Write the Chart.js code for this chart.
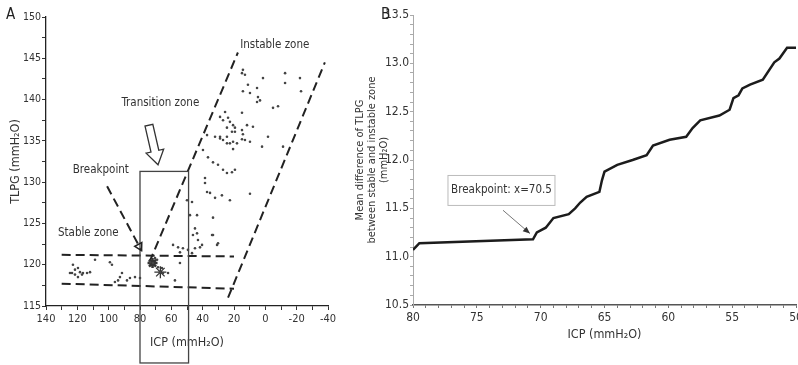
<!DOCTYPE html>
<html>
<head>
<meta charset="utf-8">
<script src="https://cdn.jsdelivr.net/npm/chart.js@4.4.1/dist/chart.umd.min.js"></script>
<style>
  html, body { margin: 0; padding: 0; background: #fff; overflow: hidden; width: 798px; height: 365px; }
  canvas { position: absolute; top: 0; }
  #chartA { left: 0; }
  #chartB { left: 340px; }
  .tag { position: absolute; font: 15px 'Liberation Sans Narrow', 'DejaVu Sans Condensed', sans-serif; color: #222; }
</style>
</head>
<body>
<canvas id="chartB" width="470" height="365"></canvas>
<canvas id="chartA" width="345" height="365"></canvas>
<div class="tag" style="left:6px;top:5px">A</div>
<div class="tag" style="left:381px;top:5px">B</div>
<script>
const FONT = "'Liberation Sans Narrow', 'DejaVu Sans Condensed', sans-serif";

// ---- Panel A: TLPG vs ICP scatter ----
const icpA = [
  14.3, 14.9, 13.0, 1.5, -12.6, -12.6, -22.1, -22.8, 11.1, 14.3, 9.8, 5.3, 4.7, 3.4, 5.3, -4.9, -8.1,
  25.7, 28.9, 23.8, 22.6, 20.6, 19.4, 24.5, 21.3, 27.0, 14.9, 11.7, 7.9, 14.9, -1.7, 28.9, 24.5,
  37.2, 32.1, 28.9, 27.0, 24.5, 22.6, 20.6, 18.1, 14.9, 13.0, 9.8, 14.3, 19.4, 20.6, 2.1, -11.3,
  39.8, 36.6, 33.4, 30.2, 27.0, 24.5, 21.3, 19.4, 38.5, 38.5, 37.2, 35.3, 32.1, 27.7, 22.6, 9.8,
  50.0, 46.8, 48.1, 43.6, 33.4, 44.9, 46.2, 33.4, 43.6, 43.0, 40.4, 34.0, 30.8, 30.2,
  58.9, 55.7, 52.6, 54.5, 49.4, 44.9, 41.7, 46.8,
  73.6, 71.7, 69.1, 68.5, 67.2, 65.3, 66.0, 62.1, 70.4, 54.5, 57.7, 80.0,
  124.7, 121.5, 122.8, 119.6, 118.3, 117.0, 116.4, 113.8, 119.6, 123.4, 121.5, 111.9,
  108.7, 99.2, 97.9, 94.0, 92.8, 91.5, 88.3, 96.0, 86.4, 83.2
];
const tlpgA = [
  143.6, 143.2, 143.0, 142.6, 143.2, 142.0, 142.6, 141.0, 141.8, 141.0, 140.8, 141.4, 140.3, 139.9, 139.7, 139.0, 139.2,
  138.5, 137.9, 137.8, 137.3, 136.9, 136.6, 136.6, 136.1, 137.5, 138.4, 136.9, 136.7, 136.3, 135.5, 135.5, 135.5,
  135.7, 135.5, 135.3, 135.1, 134.7, 134.7, 134.9, 134.7, 135.2, 135.1, 134.9, 135.8, 136.1, 134.0, 134.3, 134.3,
  133.9, 133.0, 132.4, 132.1, 131.5, 131.1, 131.2, 131.5, 130.5, 129.9, 128.8, 128.7, 128.1, 128.4, 127.8, 128.6,
  127.8, 127.6, 126.0, 126.0, 125.7, 124.4, 123.6, 123.6, 123.8, 123.0, 122.4, 123.6, 122.4, 122.6,
  122.4, 122.1, 122.0, 121.5, 121.8, 122.0, 122.1, 121.4,
  120.3, 120.2, 120.6, 119.7, 119.1, 119.0, 119.6, 119.0, 120.8, 120.2, 118.1, 118.4,
  119.0, 119.4, 120.0, 119.6, 119.1, 118.8, 119.0, 119.0, 118.5, 119.0, 118.8, 119.1,
  120.6, 120.3, 120.0, 118.1, 118.5, 119.0, 118.1, 117.9, 118.4, 118.5
];
const starICP = [72, 67];
const starTLPG = [120.2, 119.1];

// dashed zone boundaries, [ICP, TLPG] end points
const stableUpper = [[130, 121.2], [20, 121.0]];
const stableLower = [[130, 117.7], [20, 117.1]];
const breakpointPointer = [[101, 129.5], [79, 121.7]];
const instableLeft = [[74, 120.3], [17.5, 145.7]];
const instableRight = [[23.8, 116.0], [-38, 144.5]];

// transition box and arrow (data units)
const transitionBoxICP = [80, 49];
const transitionBoxTLPG = [108.1, 131.3];
const transitionArrow = [[74.3, 136.9], [68.5, 132.1]];

const labelsA = ['Instable zone', 'Transition zone', 'Breakpoint', 'Stable zone'];
const labelICP = [-6, 67, 105, 113];
const labelTLPG = [146.6, 139.6, 131.5, 123.8];

// ---- Panel B: mean difference curve ----
const icpB = [80.0, 79.5, 70.6, 70.3, 69.6, 69.0, 67.8, 67.3, 66.9, 66.4, 65.4, 65.2, 65.0, 64.0, 62.8, 61.7,
  61.2, 59.9, 58.6, 58.1, 57.5, 56.0, 55.2, 54.9, 54.5, 54.2, 53.6, 52.6, 51.7, 51.3, 50.7, 50.0];
const meanDiffB = [11.07, 11.14, 11.18, 11.25, 11.30, 11.40, 11.44, 11.50, 11.56, 11.62, 11.67, 11.79, 11.88, 11.95, 12.00, 12.05,
  12.15, 12.21, 12.24, 12.33, 12.41, 12.46, 12.52, 12.64, 12.67, 12.74, 12.78, 12.83, 13.01, 13.05, 13.16, 13.16];

const breakpointText = 'Breakpoint: x=70.5';
const breakpointBoxICP = [77.26, 68.88];
const breakpointBoxVal = [11.53, 11.84];
const breakpointArrow = [[72.95, 11.48], [70.84, 11.24]];

const toPts = arr => arr.map(p => ({ x: p[0], y: p[1] }));

function dashed(points) {
  return {
    type: 'scatter', data: toPts(points), showLine: true,
    borderColor: '#222', borderWidth: 2, borderDash: [9, 5], pointRadius: 0
  };
}

function arrowHead(ctx, x1, y1, x2, y2, len, half, fill) {
  const a = Math.atan2(y2 - y1, x2 - x1);
  ctx.beginPath();
  ctx.moveTo(x2, y2);
  ctx.lineTo(x2 - len * Math.cos(a) + half * Math.sin(a), y2 - len * Math.sin(a) - half * Math.cos(a));
  ctx.lineTo(x2 - len * Math.cos(a) - half * Math.sin(a), y2 - len * Math.sin(a) + half * Math.cos(a));
  ctx.closePath();
  if (fill) { ctx.fill(); } else { ctx.stroke(); }
}

const annotateA = {
  id: 'annotateA',
  afterDatasetsDraw(chart) {
    const { ctx, scales: { x, y } } = chart;
    ctx.save();
    // transition zone box
    const bx1 = x.getPixelForValue(transitionBoxICP[0]), bx2 = x.getPixelForValue(transitionBoxICP[1]);
    const by1 = y.getPixelForValue(transitionBoxTLPG[0]), by2 = y.getPixelForValue(transitionBoxTLPG[1]);
    ctx.strokeStyle = '#444';
    ctx.lineWidth = 1.3;
    ctx.strokeRect(bx1, by2, bx2 - bx1, by1 - by2);

    // hollow block arrow
    const tx = x.getPixelForValue(transitionArrow[0][0]), ty = y.getPixelForValue(transitionArrow[0][1]);
    const hx = x.getPixelForValue(transitionArrow[1][0]), hy = y.getPixelForValue(transitionArrow[1][1]);
    const a = Math.atan2(hy - ty, hx - tx);
    const L = Math.hypot(hx - tx, hy - ty), headLen = 14, sw = 4, hw = 9;
    const ux = Math.cos(a), uy = Math.sin(a), nx = -uy, ny = ux;
    const bxp = tx + ux * (L - headLen), byp = ty + uy * (L - headLen);
    ctx.beginPath();
    ctx.moveTo(tx + nx * sw, ty + ny * sw);
    ctx.lineTo(bxp + nx * sw, byp + ny * sw);
    ctx.lineTo(bxp + nx * hw, byp + ny * hw);
    ctx.lineTo(hx, hy);
    ctx.lineTo(bxp - nx * hw, byp - ny * hw);
    ctx.lineTo(bxp - nx * sw, byp - ny * sw);
    ctx.lineTo(tx - nx * sw, ty - ny * sw);
    ctx.closePath();
    ctx.fillStyle = '#fff';
    ctx.fill();
    ctx.strokeStyle = '#333';
    ctx.lineWidth = 1.3;
    ctx.stroke();

    // breakpoint pointer head
    const p1x = x.getPixelForValue(breakpointPointer[0][0]), p1y = y.getPixelForValue(breakpointPointer[0][1]);
    const p2x = x.getPixelForValue(breakpointPointer[1][0]), p2y = y.getPixelForValue(breakpointPointer[1][1]);
    ctx.lineWidth = 1.5;
    ctx.strokeStyle = '#222';
    arrowHead(ctx, p1x, p1y, p2x, p2y, 7, 4, false);

    // labels
    ctx.fillStyle = '#333';
    ctx.font = '11.5px ' + FONT;
    ctx.textAlign = 'center';
    ctx.textBaseline = 'middle';
    labelsA.forEach((t, i) => {
      ctx.fillText(t, x.getPixelForValue(labelICP[i]), y.getPixelForValue(labelTLPG[i]));
    });
    ctx.restore();
  }
};

new Chart(document.getElementById('chartA'), {
  type: 'scatter',
  data: {
    datasets: [
      {
        data: icpA.map((v, i) => ({ x: v, y: tlpgA[i] })),
        pointRadius: 1.3, pointBackgroundColor: '#444', pointBorderWidth: 0
      },
      {
        data: starICP.map((v, i) => ({ x: v, y: starTLPG[i] })),
        pointStyle: 'star', pointRadius: [5, 6],
        pointBorderColor: '#333', pointBorderWidth: [2.5, 1.3], pointBackgroundColor: 'transparent'
      },
      dashed(stableUpper),
      dashed(stableLower),
      dashed(breakpointPointer),
      dashed(instableLeft),
      dashed(instableRight)
    ]
  },
  options: {
    responsive: false,
    animation: false,
    layout: { padding: { top: 17, right: 17, left: 0, bottom: 0 } },
    plugins: { legend: { display: false }, tooltip: { enabled: false } },
    scales: {
      x: {
        type: 'linear', reverse: true, min: -40, max: 140,
        afterFit: s => { s.height = 59; },
        border: { color: '#222', width: 1.3 },
        grid: { drawOnChartArea: false, tickLength: 4, color: '#333' },
        ticks: {
          stepSize: 10, autoSkip: false, maxRotation: 0, padding: 3,
          color: '#333', font: { family: FONT, size: 11 },
          callback: v => (v % 20 === 0 ? v : '')
        },
        title: { display: true, text: 'ICP (mmH₂O)', color: '#333', font: { family: FONT, size: 12.5 }, padding: { top: 0, bottom: 15 } }
      },
      y: {
        min: 115, max: 150,
        afterFit: s => { s.width = 46; },
        border: { color: '#222', width: 1.3 },
        grid: { drawOnChartArea: false, tickLength: 4, color: '#333' },
        ticks: {
          stepSize: 2.5, autoSkip: false, padding: 1,
          color: '#333', font: { family: FONT, size: 10.5 },
          callback: v => (v % 5 === 0 ? v : '')
        },
        title: { display: true, text: 'TLPG (mmH₂O)', color: '#333', font: { family: FONT, size: 12.5 }, padding: { top: 8, bottom: 0 } }
      }
    }
  },
  plugins: [annotateA]
});

const annotateB = {
  id: 'annotateB',
  afterDatasetsDraw(chart) {
    const { ctx, scales: { x, y } } = chart;
    ctx.save();
    const x1 = x.getPixelForValue(breakpointBoxICP[0]), x2 = x.getPixelForValue(breakpointBoxICP[1]);
    const y1 = y.getPixelForValue(breakpointBoxVal[1]), y2 = y.getPixelForValue(breakpointBoxVal[0]);
    ctx.fillStyle = '#fff';
    ctx.fillRect(x1, y1, x2 - x1, y2 - y1);
    ctx.strokeStyle = '#bbb';
    ctx.lineWidth = 1;
    ctx.strokeRect(x1, y1, x2 - x1, y2 - y1);
    ctx.fillStyle = '#333';
    ctx.font = '11.5px ' + FONT;
    ctx.textAlign = 'center';
    ctx.textBaseline = 'middle';
    ctx.fillText(breakpointText, (x1 + x2) / 2, (y1 + y2) / 2);

    const ax1 = x.getPixelForValue(breakpointArrow[0][0]), ay1 = y.getPixelForValue(breakpointArrow[0][1]);
    const ax2 = x.getPixelForValue(breakpointArrow[1][0]), ay2 = y.getPixelForValue(breakpointArrow[1][1]);
    ctx.strokeStyle = '#777';
    ctx.lineWidth = 1;
    ctx.beginPath();
    ctx.moveTo(ax1, ay1);
    ctx.lineTo(ax2, ay2);
    ctx.stroke();
    ctx.fillStyle = '#333';
    arrowHead(ctx, ax1, ay1, ax2, ay2, 7, 3, true);
    ctx.restore();
  }
};

new Chart(document.getElementById('chartB'), {
  type: 'scatter',
  data: {
    datasets: [{
      data: icpB.map((v, i) => ({ x: v, y: meanDiffB[i] })),
      showLine: true, borderColor: '#1c1c1c', borderWidth: 2.5, pointRadius: 0, tension: 0
    }]
  },
  options: {
    responsive: false,
    animation: false,
    layout: { padding: { top: 15, right: 14, left: 0, bottom: 0 } },
    plugins: { legend: { display: false }, tooltip: { enabled: false } },
    scales: {
      x: {
        type: 'linear', reverse: true, min: 50, max: 80,
        afterFit: s => { s.height = 60; },
        border: { color: '#555', width: 1.5 },
        grid: { drawOnChartArea: false, tickLength: 3, color: '#777' },
        ticks: {
          stepSize: 1, autoSkip: false, maxRotation: 0, padding: 3,
          color: '#333', font: { family: FONT, size: 12 },
          callback: v => (v % 5 === 0 ? v : '')
        },
        title: { display: true, text: 'ICP (mmH₂O)', color: '#333', font: { family: FONT, size: 12.5 }, padding: { top: 0, bottom: 23 } }
      },
      y: {
        min: 10.5, max: 13.5,
        afterFit: s => { s.width = 73; },
        border: { color: '#aaa', width: 1, dash: [2, 2] },
        grid: { drawOnChartArea: false, tickLength: 3, color: '#aaa' },
        ticks: {
          stepSize: 0.1, autoSkip: false, padding: 1,
          color: '#333', font: { family: FONT, size: 12 },
          callback: v => (Math.round(v * 10) % 5 === 0 ? v.toFixed(1) : '')
        },
        title: {
          display: true,
          text: ['Mean difference of TLPG', 'between stable and instable zone', '(mmH₂O)'],
          color: '#333', font: { family: FONT, size: 11, lineHeight: 1.1 }, padding: { top: 14, bottom: 0 }
        }
      }
    }
  },
  plugins: [annotateB]
});
</script>
</body>
</html>
